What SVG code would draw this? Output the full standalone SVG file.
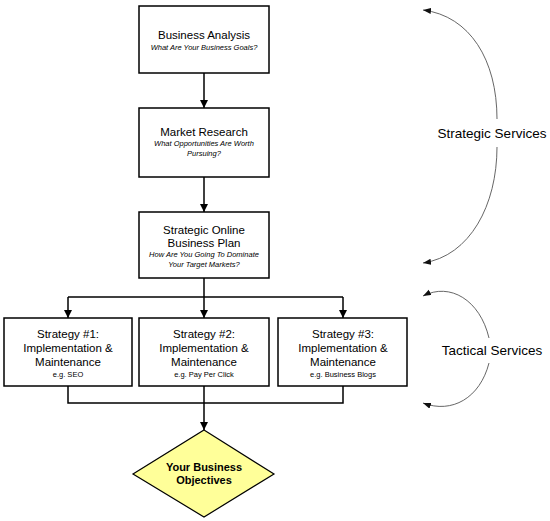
<svg xmlns="http://www.w3.org/2000/svg" width="550" height="521" viewBox="0 0 550 521">
<defs>
<marker id="ah" markerWidth="9" markerHeight="8" refX="8" refY="4" orient="auto" markerUnits="userSpaceOnUse"><path d="M0,0 L8,4 L0,8 z" fill="#000"/></marker>
<marker id="ah2" markerWidth="9" markerHeight="7" refX="8" refY="3" orient="auto" markerUnits="userSpaceOnUse"><path d="M0,0 L8,3 L0,6 z" fill="#111"/></marker>
<style>
.box{fill:#fff;stroke:#000;stroke-width:1.5}
.t{font-family:"Liberation Sans",Arial,sans-serif;font-size:11.5px;fill:#000;text-anchor:middle}
.s{font-family:"Liberation Sans",Arial,sans-serif;font-size:7.5px;font-style:italic;fill:#000;text-anchor:middle}
.e{font-family:"Liberation Sans",Arial,sans-serif;font-size:7.5px;fill:#000;text-anchor:middle}
.b{font-family:"Liberation Sans",Arial,sans-serif;font-size:11px;font-weight:bold;fill:#000;text-anchor:middle}
.side{font-family:"Liberation Sans",Arial,sans-serif;font-size:13.5px;fill:#000;text-anchor:middle}
.c{fill:none;stroke:#000;stroke-width:1.5}
.arc{fill:none;stroke:#555;stroke-width:0.9}
</style>
</defs>
<g id="connectors">
<path class="c" d="M204,73 V108" marker-end="url(#ah)"/>
<path class="c" d="M204,177 V212" marker-end="url(#ah)"/>
<path class="c" d="M204,278 V297"/>
<path class="c" d="M68,297 H343"/>
<path class="c" d="M68,297 V318" marker-end="url(#ah)"/>
<path class="c" d="M204,297 V318" marker-end="url(#ah)"/>
<path class="c" d="M343,297 V318" marker-end="url(#ah)"/>
<path class="c" d="M68,386 V403 H343 V386"/>
<path class="c" d="M204,386 V403"/>
<path class="c" d="M204,403 V430" marker-end="url(#ah)"/>
<path class="arc" d="M497,119 C497,60 470,16 423,10" marker-end="url(#ah2)"/>
<path class="arc" d="M497,147 C497,205 470,256 423,263" marker-end="url(#ah2)"/>
<path class="arc" d="M489,338 C480,300 450,282 423,296" marker-end="url(#ah2)"/>
<path class="arc" d="M489,363 C480,398 452,414 423,403" marker-end="url(#ah2)"/>
</g>
<g id="business-analysis">
<rect class="box" x="139" y="6" width="130" height="67"/>
<text class="t" x="204" y="39">Business Analysis</text>
<text class="s" x="204" y="50">What Are Your Business Goals?</text>
</g>
<g id="market-research">
<rect class="box" x="139" y="108" width="130" height="69"/>
<text class="t" x="204" y="136">Market Research</text>
<text class="s" x="204" y="146">What Opportunities Are Worth</text>
<text class="s" x="204" y="156">Pursuing?</text>
</g>
<g id="strategic-plan">
<rect class="box" x="139" y="212" width="130" height="66"/>
<text class="t" x="204" y="234">Strategic Online</text>
<text class="t" x="204" y="247">Business Plan</text>
<text class="s" x="204" y="257">How Are You Going To Dominate</text>
<text class="s" x="204" y="267">Your Target Markets?</text>
</g>
<g id="strategy-1">
<rect class="box" x="4" y="318" width="128" height="68"/>
<text class="t" x="68" y="338">Strategy #1:</text>
<text class="t" x="68" y="352">Implementation &amp;</text>
<text class="t" x="68" y="366">Maintenance</text>
<text class="e" x="68" y="377">e.g. SEO</text>
</g>
<g id="strategy-2">
<rect class="box" x="139" y="318" width="130" height="68"/>
<text class="t" x="204" y="338">Strategy #2:</text>
<text class="t" x="204" y="352">Implementation &amp;</text>
<text class="t" x="204" y="366">Maintenance</text>
<text class="e" x="204" y="377">e.g. Pay Per Click</text>
</g>
<g id="strategy-3">
<rect class="box" x="278" y="318" width="129" height="68"/>
<text class="t" x="343" y="338">Strategy #3:</text>
<text class="t" x="343" y="352">Implementation &amp;</text>
<text class="t" x="343" y="366">Maintenance</text>
<text class="e" x="343" y="377">e.g. Business Blogs</text>
</g>
<g id="objectives">
<path d="M204,430 L274,474 L204,517 L133,474 Z" fill="#FFFF99" stroke="#000" stroke-width="1.2"/>
<text class="b" x="204" y="471">Your Business</text>
<text class="b" x="204" y="484">Objectives</text>
</g>
<g id="strategic-services">
<text class="side" x="492" y="138">Strategic Services</text>
</g>
<g id="tactical-services">
<text class="side" x="492" y="355">Tactical Services</text>
</g>
</svg>
